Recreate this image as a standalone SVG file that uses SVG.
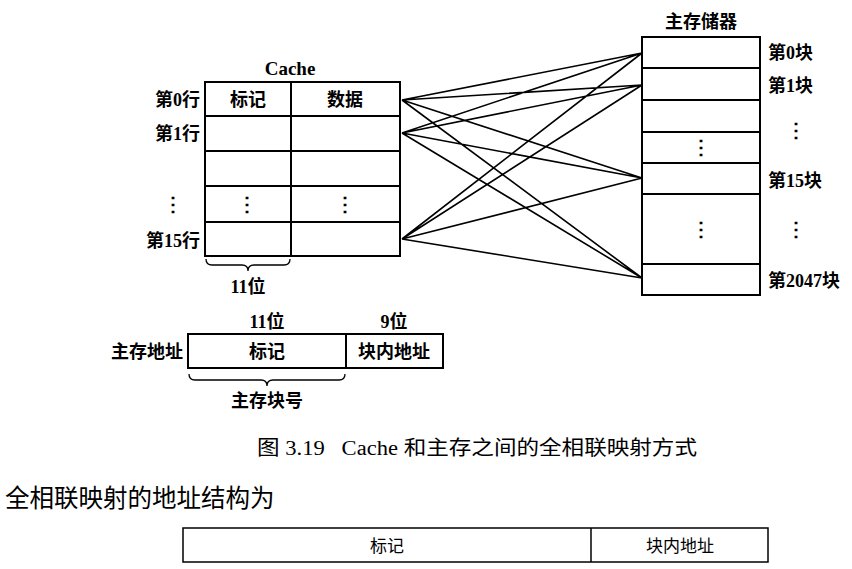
<svg xmlns="http://www.w3.org/2000/svg" width="852" height="569" viewBox="0 0 852 569">
<style>
.box{fill:#fff;stroke:#000;stroke-width:2}
.ln{stroke:#000;stroke-width:2;fill:none}
.cn{stroke:#000;stroke-width:1.6;fill:none}
.br{stroke:#000;stroke-width:1.3;fill:none}
.t{font-family:"Liberation Serif","Noto Sans CJK SC",serif;font-weight:700;font-size:18px;fill:#000}
.d{font-family:"Noto Sans CJK SC",sans-serif;font-weight:700;font-size:20px;fill:#000;text-anchor:middle}
.m{text-anchor:middle}
.e{text-anchor:end}
.cap{font-family:"Liberation Serif","Noto Sans CJK SC",serif;font-size:20px;fill:#000;white-space:pre}
.h{font-family:"Noto Sans CJK SC",sans-serif;font-size:24.5px;fill:#000}
.sm{font-family:"Noto Sans CJK SC",sans-serif;font-size:17px;fill:#000}
</style>
<rect width="852" height="569" fill="#fff"/>
<g id="cache">
<text class="t m" x="290" y="75" style="font-size:19px">Cache</text>
<rect class="box" x="205" y="82" width="195" height="174"/>
<path class="ln" d="M205 116H400M205 151H400M205 186H400M205 222H400M291 82V256"/>
<text class="t m" x="248" y="106">标记</text>
<text class="t m" x="345" y="106">数据</text>
<text class="d" x="247" y="211">⋮</text>
<text class="d" x="345" y="211">⋮</text>
<text class="t e" x="200" y="106">第0行</text>
<text class="t e" x="200" y="140">第1行</text>
<text class="d" x="173" y="211">⋮</text>
<text class="t e" x="200" y="247">第15行</text>
<path class="br" d="M206 259Q206 265 212 265H242Q248 265 248 271Q248 265 254 265H284Q290 265 290 259"/>
<text class="t m" x="248" y="293">11位</text>
</g>
<g id="memory">
<text class="t m" x="701" y="28">主存储器</text>
<rect class="box" x="642" y="37" width="118" height="258"/>
<path class="ln" d="M642 68H760M642 100H760M642 132H760M642 163H760M642 194H760M642 264H760"/>
<text class="d" x="701" y="154">⋮</text>
<text class="d" x="701" y="236">⋮</text>
<text class="t" x="768" y="59">第0块</text>
<text class="t" x="768" y="92">第1块</text>
<text class="d" x="796" y="137">⋮</text>
<text class="t" x="768" y="187">第15块</text>
<text class="d" x="796" y="236">⋮</text>
<text class="t" x="768" y="287">第2047块</text>
</g>
<g id="connectors">
<path class="cn" d="M402 100L642 53M402 100L642 85M402 100L642 178M402 100L642 278M402 133L642 53M402 133L642 85M402 133L642 178M402 133L642 278M402 239L642 53M402 239L642 85M402 239L642 178M402 239L642 278"/>
</g>
<g id="address">
<text class="t m" x="267" y="328">11位</text>
<text class="t m" x="394" y="328">9位</text>
<text class="t e" x="183" y="358">主存地址</text>
<rect class="box" x="188" y="334" width="255" height="34"/>
<path class="ln" d="M346 334V368"/>
<text class="t m" x="267" y="358">标记</text>
<text class="t m" x="394" y="358">块内地址</text>
<path class="br" d="M189 374Q189 380 195 380H261Q267 380 267 386Q267 380 273 380H339Q345 380 345 374"/>
<text class="t m" x="267" y="407">主存块号</text>
</g>
<g id="caption">
<text class="cap" x="257" y="455" textLength="440" lengthAdjust="spacingAndGlyphs">图 3.19   Cache 和主存之间的全相联映射方式</text>
<text class="h" x="5" y="507">全相联映射的地址结构为</text>
</g>
<g id="structure">
<rect x="183" y="528" width="585" height="34" fill="#fff" stroke="#000" stroke-width="1.5"/>
<path d="M591 528V562" stroke="#000" stroke-width="1.5"/>
<text class="sm m" x="387" y="552">标记</text>
<text class="sm m" x="680" y="552">块内地址</text>
</g>
</svg>
